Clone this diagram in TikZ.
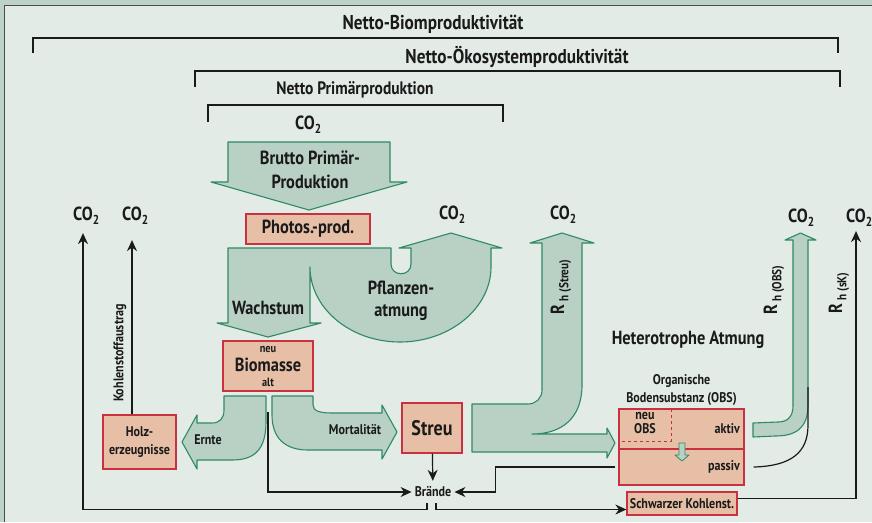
\documentclass[tikz,border=0pt]{standalone}
\usepackage{fontspec}
\setmainfont{PT Sans}[FakeStretch=0.86]
\usetikzlibrary{arrows.meta,positioning}

\definecolor{outerbg}{HTML}{BDD3C8}
\definecolor{panel}{HTML}{E2EBE6}
\definecolor{flowfill}{HTML}{B9D0C5}
\definecolor{flowline}{HTML}{2F8A62}
\definecolor{boxfill}{HTML}{E6BFA6}
\definecolor{boxline}{HTML}{C8313F}
\definecolor{ink}{HTML}{1A1A1A}

\newcommand{\cotwo}{CO\rlap{\raisebox{-0.45ex}{\fontsize{13}{13}\selectfont 2}}}
\newcommand{\rhsub}[1]{R\,\raisebox{-0.45ex}{\fontsize{13}{13}\selectfont h (#1)}}

\tikzset{
	txt/.style={font=\bfseries\fontsize{14}{17}\selectfont, text=ink, inner sep=1pt, align=center},
	big/.style={txt, font=\bfseries\fontsize{19}{24}\selectfont},
	head/.style={txt, font=\bfseries\fontsize{20}{22}\selectfont},
	co/.style={txt, font=\bfseries\fontsize{19}{20}\selectfont},
	box/.style={draw=boxline, fill=boxfill, line width=1.3pt},
	flow/.style={fill=flowfill, draw=flowline, line width=1.1pt, line join=round},
	bracket/.style={draw=ink, line width=2.2pt},
	arr/.style={draw=ink, line width=1.2pt, -{Stealth[length=11pt,width=10pt]}}
}

\begin{document}
\begin{tikzpicture}[x=1pt, y=-1pt]
	\useasboundingbox (0,0) rectangle (872,522);
	\fill[outerbg] (0,0) rectangle (872,522);
	\fill[panel] (4,5) rectangle (872,522);
	\draw[black!70, line width=1pt] (4,522) -- (4,5) -- (872,5);

	% brackets
	\node[head] (nbp) at (433,24) {Netto-Biomproduktivität};
	\draw[bracket] (33,53) |- (838,38) -- (838,53);
	\node[head] (nep) at (517,57) {Netto-Ökosystemproduktivität};
	\draw[bracket] (195,87) |- (840,71) -- (840,87);
	\node[head, font=\bfseries\fontsize{18}{20}\selectfont] (npp) at (355,90) {Netto Primärproduktion};
	\draw[bracket] (208,122) |- (503,105) -- (503,122);

	% flows
	\draw[flow] (228,142) -- (390,142) -- (390,182) -- (407,182) -- (309,210) -- (211,182) -- (228,182) -- cycle;
	\draw[flow] (228,248) -- (391,248) -- (391,264) .. controls (391,277) and (411,277) .. (411,264)
		-- (411,248) -- (399,248) -- (451,233) -- (502,248) -- (491,248) -- (491,267)
		.. controls (491,308) and (450,342) .. (400,342) .. controls (350,342) and (310,308) .. (310,267)
		-- (310,323) -- (321,323) -- (268,337) -- (217,323) -- (228,323) -- cycle;
	\draw[flow] (472,404) -- (528,404) .. controls (536,404) and (542,398) .. (542,390) -- (542,243)
		-- (530,243) -- (562,233) -- (594,243) -- (582,243) -- (582,385)
		.. controls (582,418) and (562,434) .. (532,434) -- (607,434) -- (607,428) -- (615,443)
		-- (607,458) -- (607,452) -- (472,452) -- cycle;
	\draw[flow] (224,396) -- (266,396) -- (266,422) .. controls (266,452) and (252,460) .. (232,460)
		-- (197,460) -- (197,469) -- (182,442) -- (197,415) -- (197,423) -- (212,423)
		.. controls (220,423) and (224,418) .. (224,410) -- cycle;
	\draw[flow] (272,396) -- (313,396) -- (313,405) .. controls (313,411) and (320,413) .. (332,413)
		-- (382,413) -- (382,405) -- (397,432) -- (382,459) -- (382,450) -- (308,450)
		.. controls (285,450) and (272,438) .. (272,415) -- cycle;
	\draw[flow] (753,423) -- (778,422) .. controls (788,422) and (793,416) .. (793,406) -- (793,240)
		-- (785,240) -- (800.5,233) -- (816,240) -- (808,240) -- (808,405)
		.. controls (808,428) and (796,436) .. (775,436) -- (753,437) -- cycle;

	\node[big] (brutto) at (310,170) {Brutto Primär-\\Produktion};
	\node[big] (wachs) at (268,308) {Wachstum};
	\node[big, font=\bfseries\fontsize{19}{22}\selectfont] (pflanz) at (401,301) {Pflanzen-\\atmung};
	\node[txt] (ernte) at (208,440) {Ernte};
	\node[txt] (mort) at (355,430) {Mortalität};
	\node[co, rotate=90] (rhstreu) at (561,287) {\rhsub{Streu}};
	\node[co, rotate=90] (rhobs) at (774,290) {\rhsub{OBS}};
	\node[co, rotate=90] (rhsk) at (839,293) {\rhsub{sK}};
	\node[big] (hetero) at (688,340) {Heterotrophe Atmung};

	% boxes
	\node[box, minimum width=90pt, minimum height=50pt] (bio) at (268,366) {};
	\node[big, font=\bfseries\fontsize{19}{20}\selectfont] (biotxt) at (268,364.5) {Biomasse};
	\node[txt, font=\bfseries\fontsize{12}{14}\selectfont] (bioneu) at (268,349.5) {neu};
	\node[txt, font=\bfseries\fontsize{12}{14}\selectfont] (bioalt) at (268,382) {alt};
	\node[box, big, minimum width=124pt, minimum height=30pt] (photo) at (308,229) {Photos.-prod.};
	\node[box, txt, font=\bfseries\fontsize{14}{18}\selectfont, minimum width=73pt, minimum height=54pt] (holz) at (139.5,442) {Holz-\\erzeugnisse};
	\node[box, big, font=\bfseries\fontsize{21}{20}\selectfont, minimum width=60pt, minimum height=50pt] (streu) at (432,428) {Streu};
	\node[box, minimum width=125pt, minimum height=76pt] (obs) at (681.5,447) {};
	\node[txt, font=\bfseries\fontsize{14}{18}\selectfont, above=2pt of obs] (obslbl) {Organische\\Bodensubstanz (OBS)};
	\draw[boxline, line width=1.3pt] (obs.west |- 0,449) -- (obs.east |- 0,449);
	\draw[boxline, line width=1pt, dashed] (671,409) |- (619,441);
	\node[txt, font=\bfseries\fontsize{14}{14}\selectfont] (obsneu) at (645,423) {neu\\OBS};
	\node[txt, anchor=east] (aktiv) at (741,429) {aktiv};
	\node[txt, anchor=east] (passiv) at (741,467) {passiv};
	\draw[flow, line width=0.8pt] (679,443) -- (685,443) -- (685,455) -- (689,455) -- (682,461) -- (675,455) -- (679,455) -- cycle;
	\node[box, txt, font=\bfseries\fontsize{14}{17}\selectfont, minimum width=110pt, minimum height=23pt, inner xsep=0pt] (sk) at (682,503.5) {Schwarzer Kohlenst.};
	\node[txt, minimum height=22pt, inner xsep=3pt, inner ysep=0pt] (braende) at (433,492) {Brände};

	% CO2
	\node[co] (co2top) at (305,125) {\cotwo};
	\node[co] (co2l) at (83,216) {\cotwo};
	\node[co] (co2h) at (132,216) {\cotwo};
	\node[co] (co2p) at (449,215) {\cotwo};
	\node[co] (co2s) at (560,215) {\cotwo};
	\node[co] (co2o) at (798,218) {\cotwo};
	\node[co] (co2k) at (856,218) {\cotwo};

	% connectors
	\coordinate (biodown) at (268,412);
	\draw[arr] (streu) -- (braende);
	\draw[arr] (biodown) |- (braende);
	\draw[arr] ([shift={(-3,20)}]obs.west) -- ++(-120,0) |- (braende);
	\draw[arr, shorten >=7pt] ([xshift=-6pt]braende.south) -- ++(0,6) -| (co2l);
	\draw[arr] ([xshift=3pt]braende.south) |- ([yshift=-6pt]sk.west);
	\draw[arr, shorten >=3pt] ([yshift=5pt]sk.east) -| (co2k);
	\draw[arr, shorten >=14pt] (co2h.south |- holz.north) -- (co2h);
	\draw[ink, line width=1.2pt] ([shift={(9,20)}]obs.east) .. controls (792,466) and (808,452) .. (808,425) -- (808,387);
	\node[txt, rotate=90, font=\bfseries\fontsize{14}{14}\selectfont] (austrag) at (120,353) {Kohlenstoffaustrag};
\end{tikzpicture}
\end{document}
